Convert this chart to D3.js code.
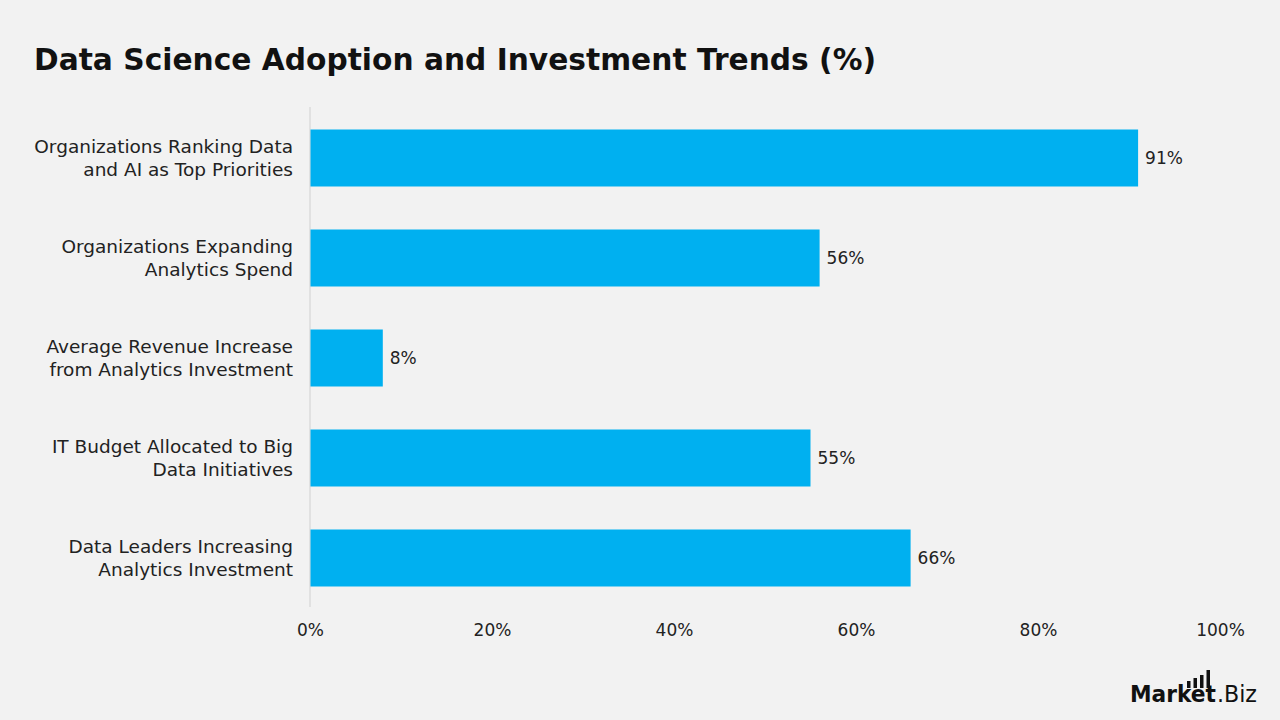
<!DOCTYPE html>
<html><head><meta charset="utf-8">
<script src="https://cdn.jsdelivr.net/npm/d3@7"></script>
<style>
html,body{margin:0;padding:0;background:#f2f2f2;}
svg{display:block;font-family:"DejaVu Sans",sans-serif;}
</style></head>
<body>
<svg id="c" width="1280" height="720"></svg>
<script>
const categories = [
  ["Organizations Ranking Data", "and AI as Top Priorities"],
  ["Organizations Expanding", "Analytics Spend"],
  ["Average Revenue Increase", "from Analytics Investment"],
  ["IT Budget Allocated to Big", "Data Initiatives"],
  ["Data Leaders Increasing", "Analytics Investment"]
];
const values = [91, 56, 8, 55, 66];
const tickValues = [0, 20, 40, 60, 80, 100];
const title = "Data Science Adoption and Investment Trends (%)";

const FONT = "'DejaVu Sans',sans-serif";
const svg = d3.select("#c");
svg.append("rect").attr("width",1280).attr("height",720).attr("fill","#f2f2f2");

const x = d3.scaleLinear().domain([0,100]).range([310,1220]);
const y = d3.scaleBand().domain(d3.range(values.length)).range([108,608]).paddingInner(0.43).paddingOuter(0.215);

svg.append("text").attr("x",34).attr("y",70).attr("font-size",30).attr("font-weight",700)
  .attr("fill","#111").attr("font-family",FONT)
  .attr("textLength",842).attr("lengthAdjust","spacingAndGlyphs").text(title);

svg.append("line").attr("x1",x(0)).attr("x2",x(0)).attr("y1",107).attr("y2",607)
  .attr("stroke","#d0d0d0").attr("stroke-width",1);

svg.selectAll("rect.bar").data(values).enter().append("rect").attr("class","bar")
  .attr("x",x(0)+0.5).attr("y",(d,i)=>y(i)).attr("height",y.bandwidth())
  .attr("width",d=>x(d)-x(0)-0.5).attr("fill","#00b0f0");

svg.selectAll("text.val").data(values).enter().append("text").attr("class","val")
  .attr("x",d=>x(d)+7).attr("y",(d,i)=>y(i)+y.bandwidth()/2+6)
  .attr("font-size",17).attr("fill","#222").attr("font-family",FONT).text(d=>d+"%");

const lab = svg.selectAll("text.cat").data(categories).enter().append("text").attr("class","cat")
  .attr("text-anchor","end").attr("font-size",18.5).attr("fill","#222").attr("font-family",FONT);
lab.each(function(d,i){
  const t = d3.select(this);
  const cy = y(i)+y.bandwidth()/2;
  d.forEach((line,j)=>{
    t.append("tspan").attr("x",293).attr("y",cy-11.5+23*j+6).text(line);
  });
});

const ax = svg.append("g").attr("transform","translate(0,624)")
  .call(d3.axisBottom(x).tickValues(tickValues).tickFormat(d=>d+"%").tickSize(0).tickPadding(0));
ax.select(".domain").remove();
ax.selectAll("text").attr("font-size",17).attr("fill","#222").attr("font-family",FONT).attr("dy","0.71em");

// logo
const lg = svg.append("g");
lg.append("text").attr("x",1130).attr("y",702).attr("font-size",23).attr("font-weight",700).attr("fill","#111")
  .attr("font-family",FONT).attr("textLength",86).attr("lengthAdjust","spacingAndGlyphs").text("Market");
lg.append("text").attr("x",1217).attr("y",702).attr("font-size",23).attr("font-weight",400).attr("fill","#111")
  .attr("font-family",FONT).attr("textLength",40).attr("lengthAdjust","spacingAndGlyphs").text(".Biz");
const barsH = [7,10,13,18];
barsH.forEach((h,i)=>{
  lg.append("rect").attr("x",1187+i*6.5).attr("y",688-h).attr("width",3.5).attr("height",h).attr("fill","#111");
});
</script>
</body></html>
